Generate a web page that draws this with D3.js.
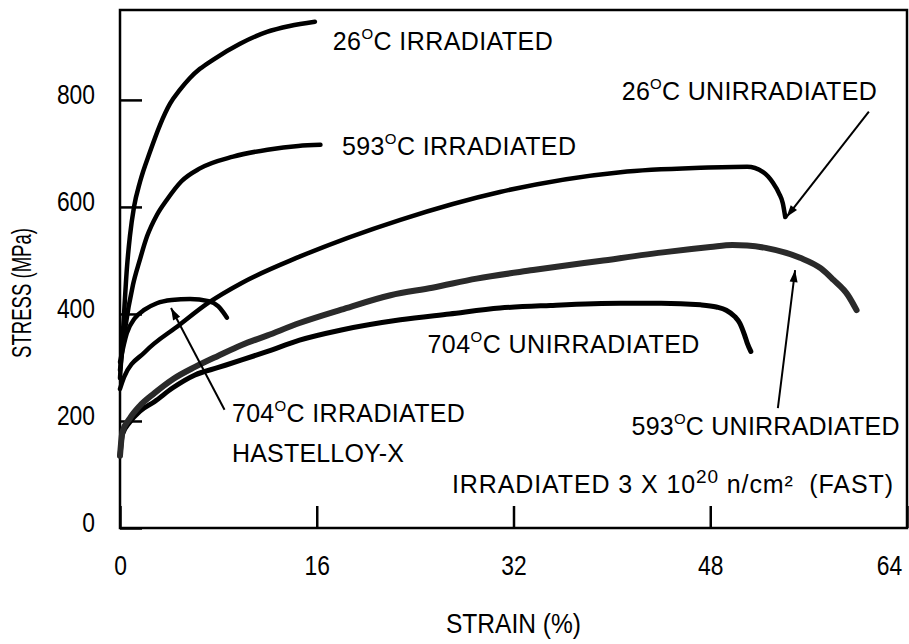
<!DOCTYPE html>
<html><head><meta charset="utf-8">
<script src="https://cdn.jsdelivr.net/npm/d3@7"></script>
<style>
body{margin:0;background:#fff}
svg text{font-family:"Liberation Sans",Arial,sans-serif;fill:#000}
</style>
</head><body>
<svg id="c" width="909" height="644"></svg>
<script>
// ---- data (strain %, stress MPa) ----
const xTicks = [0, 16, 32, 48, 64];
const yTicks = [0, 200, 400, 600, 800];

const irradiated26 = [[0,280],[0.25,370],[0.57,488],[0.81,546],[1.14,600],[1.63,647],[2.44,703],[3.25,753],[4.07,793],[4.88,819],[5.69,841],[6.5,858],[7.56,875],[9.76,905],[11.95,927],[13.8,938],[15.85,946]];
const irradiated593 = [[0,295],[0.4,370],[1.06,455],[1.6,500],[2.2,545],[3.0,585],[3.8,613],[5,648],[6.5,672],[9.2,694],[12,707],[14.5,714],[16.3,716]];
const irradiated704 = [[0,310],[0.55,364],[1.2,392],[2.0,408],[3,420],[4.2,426],[5.7,428],[7.2,424],[8.0,414],[8.4,403],[8.7,393]];
const unirradiated26 = [[0,260],[0.33,282],[2.03,329],[4.8,379],[7.2,421],[9.9,458],[14.6,507],[22.8,576],[30.9,628],[40.7,665],[47.2,673],[51,675],[52.3,665],[53.1,645],[53.6,625],[53.9,607],[54.1,581]];
const unirradiated593 = [[0,135],[0.2,180],[0.8,205],[1.6,228],[2.8,252],[4.3,278],[6.1,301],[8,322],[9.9,342],[12,360],[14.6,383],[18,408],[22,435],[25.4,449],[29,466],[33.6,482],[39,499],[44.5,516],[48,525],[49.8,529],[51,528],[52.6,523],[55.3,505],[57,485],[58,464],[59.2,435],[59.9,407]];
const unirradiated704 = [[0,135],[0.2,175],[0.8,198],[1.6,218],[2.8,236],[4.3,262],[6.1,286],[8,300],[9.9,314],[12,330],[14.6,351],[18,370],[22.8,389],[26.8,400],[30.9,411],[35,416],[40.7,420],[44,420],[47.2,417],[48.5,413],[49.3,407],[50,395],[50.4,383],[50.8,360],[51,346],[51.3,330]];

// labels: text parts, anchor point in data units, target width
const labelText = [
  {lead:"26", sup:"O", rest:"C IRRADIATED", s:17.3, v:893, w:220},
  {lead:"593", sup:"O", rest:"C IRRADIATED", s:18.05, v:697, w:234},
  {lead:"26", sup:"O", rest:"C UNIRRADIATED", s:40.8, v:800, w:255},
  {lead:"704", sup:"O", rest:"C UNIRRADIATED", s:25.0, v:327, w:272},
  {lead:"704", sup:"O", rest:"C IRRADIATED", s:9.1, v:198, w:233},
  {lead:"HASTELLOY-X", sup:"", rest:"", s:9.1, v:123, w:172},
  {lead:"593", sup:"O", rest:"C UNIRRADIATED", s:41.6, v:174, w:268},
  {lead:"IRRADIATED 3 X 10", sup:"20", rest:" n/cm\u00B2  (FAST)", s:27.0, v:65, w:441}
];
// arrows: from -> to (data units)
const arrows = [
  {from:[60.9,778], to:[54.2,581]},
  {from:[53.5,224], to:[54.9,482]},
  {from:[8.5,221], to:[4.15,411]}
];

// ---- chart ----
const svg = d3.select("#c");
const x = d3.scaleLinear().domain([0,64]).range([120,907]);
const y = d3.scaleLinear().domain([0,968]).range([528,10]);

svg.append("defs").append("marker")
  .attr("id","ah").attr("viewBox","0 -5 12 10").attr("refX",12).attr("refY",0)
  .attr("markerUnits","userSpaceOnUse").attr("markerWidth",13).attr("markerHeight",10)
  .attr("orient","auto")
  .append("path").attr("d","M0,-4L12,0L0,4Z").attr("fill","#000");

// frame
svg.append("rect")
  .attr("x",x(0)).attr("y",y(968)).attr("width",x(64)-x(0)).attr("height",y(0)-y(968))
  .attr("fill","none").attr("stroke","#000").attr("stroke-width",2.5);

const gY = svg.append("g").attr("transform",`translate(${x(0)},0)`)
  .call(d3.axisLeft(y).tickValues(yTicks).tickSize(-22).tickPadding(25));
gY.select(".domain").remove();
gY.selectAll(".tick line").attr("stroke","#000").attr("stroke-width",2.5);
gY.selectAll(".tick text").attr("font-size",28).attr("y",-5)
  .attr("textLength",d=>String(d).length*12.7).attr("lengthAdjust","spacingAndGlyphs")
  .style("font-family","Liberation Sans, Arial, sans-serif");

const gX = svg.append("g").attr("transform",`translate(0,${y(0)})`)
  .call(d3.axisBottom(x).tickValues(xTicks).tickSize(-22).tickPadding(0));
gX.select(".domain").remove();
gX.selectAll(".tick line").attr("stroke","#000").attr("stroke-width",2.5);
gX.selectAll(".tick text").attr("font-size",28).attr("dy",null).attr("y",47)
  .attr("textLength",d=>String(d).length*12.7).attr("lengthAdjust","spacingAndGlyphs")
  .style("font-family","Liberation Sans, Arial, sans-serif");
gX.selectAll(".tick text").filter(d=>d===64).attr("x",-18);

// axis titles
svg.append("text").attr("x",(x(0)+x(64))/2).attr("y",633).attr("text-anchor","middle")
  .attr("font-size",28).attr("textLength",135).attr("lengthAdjust","spacingAndGlyphs")
  .text("STRAIN (%)");
svg.append("text").attr("transform","translate(31,293) rotate(-90)").attr("text-anchor","middle")
  .attr("font-size",27).attr("textLength",130).attr("lengthAdjust","spacingAndGlyphs")
  .text("STRESS (MPa)");

// curves
const line = d3.line().x(d=>x(d[0])).y(d=>y(d[1])).curve(d3.curveMonotoneX);
const curves = [
  {v:irradiated26, w:4.5, c:"#000"},
  {v:irradiated593, w:4.5, c:"#000"},
  {v:irradiated704, w:4.5, c:"#000"},
  {v:unirradiated26, w:4.5, c:"#000"},
  {v:unirradiated704, w:5, c:"#000"},
  {v:unirradiated593, w:6, c:"#2a2a2a"}
];
svg.append("g").selectAll("path").data(curves).join("path")
  .attr("d",d=>line(d.v)).attr("fill","none").attr("stroke",d=>d.c)
  .attr("stroke-width",d=>d.w).attr("stroke-linecap","round").attr("stroke-linejoin","round");

// arrows
svg.append("g").selectAll("line").data(arrows).join("line")
  .attr("x1",d=>x(d.from[0])).attr("y1",d=>y(d.from[1]))
  .attr("x2",d=>x(d.to[0])).attr("y2",d=>y(d.to[1]))
  .attr("stroke","#000").attr("stroke-width",2).attr("marker-end","url(#ah)");

// labels
const lg = svg.append("g");
labelText.forEach(L=>{
  const t = lg.append("text").attr("x",x(L.s)).attr("y",y(L.v)).attr("font-size",25)
    .style("white-space","pre").attr("textLength",L.w).attr("lengthAdjust","spacing");
  t.append("tspan").text(L.lead);
  if (L.sup) {
    const big = L.sup.length > 1;
    t.append("tspan").attr("font-size",big?19:15).attr("dy",big?-10:-11).text(L.sup);
    t.append("tspan").attr("font-size",25).attr("dy",big?10:11).text(L.rest);
  }
});
</script>
</body></html>
